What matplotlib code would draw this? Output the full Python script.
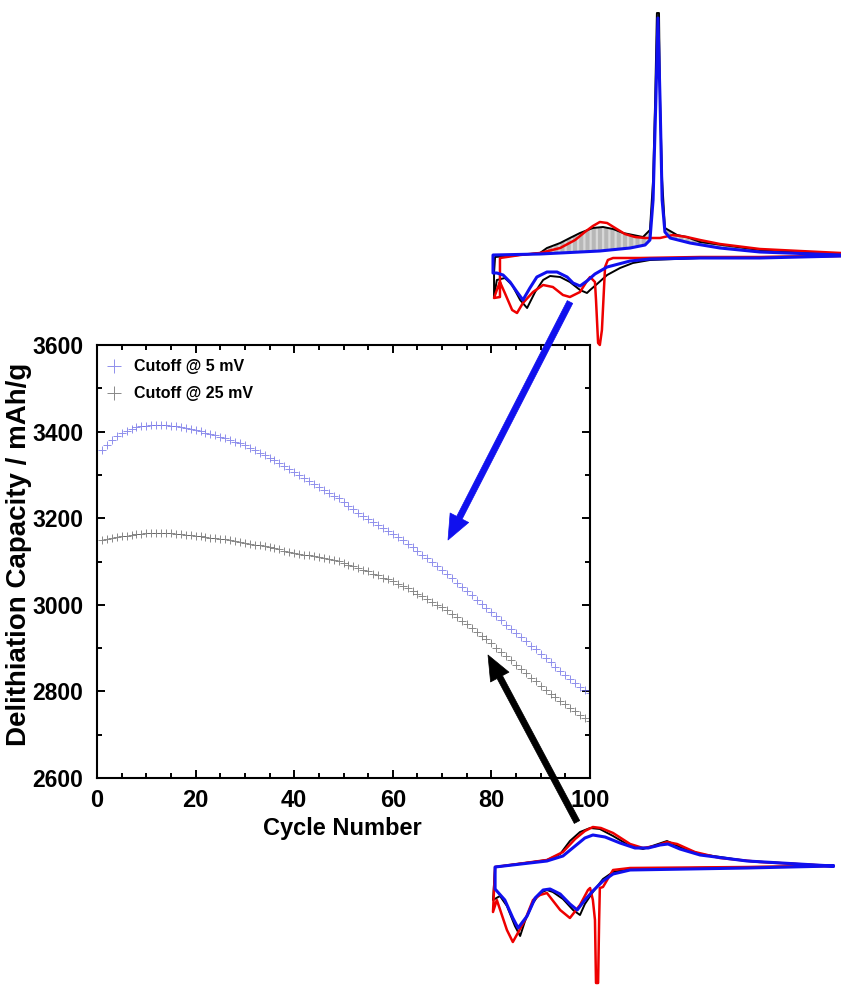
import numpy as np
import matplotlib
matplotlib.use("Agg")
import matplotlib.pyplot as plt
from matplotlib.lines import Line2D

plt.rcParams['font.family'] = ['Liberation Sans', 'DejaVu Sans']
plt.rcParams['font.weight'] = 'bold'
plt.rcParams['hatch.linewidth'] = 0.3

# ---------------- cycling data ----------------
cycles = list(range(1, 101))
cap_5mV = [3358, 3370, 3380, 3389, 3396, 3402, 3406, 3410, 3412, 3414,
           3415, 3415, 3416, 3416, 3414, 3412, 3410, 3408, 3406, 3404,
           3401, 3397, 3394, 3391, 3388, 3385, 3381, 3377, 3373, 3368,
           3362, 3357, 3351, 3346, 3340, 3334, 3327, 3320, 3313, 3306,
           3299, 3292, 3285, 3278, 3272, 3265, 3259, 3252, 3246, 3238,
           3229, 3221, 3213, 3205, 3198, 3191, 3185, 3178, 3171, 3164,
           3157, 3149, 3141, 3133, 3124, 3116, 3107, 3098, 3089, 3080,
           3070, 3061, 3051, 3041, 3031, 3022, 3012, 3002, 2993, 2983,
           2973, 2964, 2954, 2945, 2935, 2926, 2916, 2906, 2897, 2887,
           2877, 2867, 2857, 2848, 2838, 2829, 2819, 2810, 2803, 2797]
cap_25mV = [3149, 3152, 3155, 3157, 3159, 3160, 3162, 3163, 3164, 3165,
            3165, 3166, 3166, 3166, 3165, 3164, 3163, 3162, 3161, 3160,
            3158, 3157, 3155, 3154, 3153, 3151, 3149, 3147, 3145, 3143,
            3141, 3139, 3137, 3135, 3133, 3131, 3128, 3125, 3122, 3120,
            3118, 3116, 3114, 3112, 3110, 3108, 3105, 3103, 3101, 3097,
            3093, 3089, 3085, 3081, 3077, 3072, 3068, 3063, 3059, 3054,
            3049, 3043, 3038, 3032, 3026, 3020, 3013, 3007, 3000, 2994,
            2987, 2979, 2971, 2963, 2955, 2946, 2937, 2929, 2920, 2911,
            2901, 2891, 2882, 2872, 2862, 2852, 2842, 2832, 2823, 2813,
            2804, 2795, 2787, 2778, 2770, 2762, 2754, 2746, 2739, 2731]
series_labels = ["Cutoff @ 5 mV", "Cutoff @ 25 mV"]
x_ticks = [0, 20, 40, 60, 80, 100]
y_ticks = [2600, 2800, 3000, 3200, 3400, 3600]

# ---------------- cyclic voltammograms, 5 mV cutoff ----------------
# potential (V) and current (a.u.); lithiation branch then delithiation branch
cv5_cyc1_E = [1.0, 0.767, 0.595, 0.422, 0.345, 0.330, 0.322, 0.313, 0.307, 0.302,
              0.296, 0.293, 0.279, 0.270, 0.250, 0.221, 0.201, 0.172, 0.144, 0.115,
              0.086, 0.069, 0.055, 0.034, 0.020, 0.011, 0.003, 0.020, 0.020,
              0.078, 0.135, 0.193, 0.236, 0.264, 0.287, 0.307, 0.328, 0.351, 0.379,
              0.408, 0.437, 0.480, 0.517, 0.557, 0.595, 0.652, 0.767, 0.882, 1.0]
cv5_cyc1_I = [-0.01, -0.02, -0.02, -0.03, -0.03, -0.05, -0.12, -0.75, -0.90, -0.88,
              -0.45, -0.27, -0.22, -0.26, -0.37, -0.42, -0.40, -0.32, -0.30, -0.37,
              -0.48, -0.58, -0.55, -0.38, -0.27, -0.35, -0.43, -0.42, -0.03,
              0.00, 0.02, 0.07, 0.15, 0.23, 0.29, 0.33, 0.32, 0.27, 0.21,
              0.18, 0.17, 0.17, 0.20, 0.18, 0.15, 0.11, 0.06, 0.04, 0.02]

cv5_cyc2_E = [1.0, 0.767, 0.595, 0.451, 0.402, 0.365, 0.328, 0.299, 0.279, 0.270,
              0.250, 0.221, 0.193, 0.164, 0.144, 0.121, 0.098, 0.078, 0.055, 0.034,
              0.011, 0.003, 0.003]
cv5_cyc2_I = [-0.01, -0.02, -0.03, -0.05, -0.08, -0.13, -0.20, -0.29, -0.35, -0.38,
              -0.35, -0.27, -0.22, -0.21, -0.25, -0.37, -0.53, -0.45, -0.30, -0.23,
              -0.25, -0.42, -0.18]
cv5_cyc2_anE = [0.006, 0.078, 0.135, 0.155, 0.193, 0.221, 0.250, 0.287, 0.316, 0.345,
                0.374, 0.431, 0.451, 0.460, 0.466, 0.471, 0.477, 0.480, 0.486, 0.494,
                0.529, 0.557, 0.595, 0.767, 1.0]
cv5_cyc2_anI = [-0.02, 0.00, 0.02, 0.07, 0.12, 0.17, 0.22, 0.27, 0.28, 0.26,
                0.22, 0.18, 0.25, 0.75, 1.55, 2.42, 2.42, 1.55, 0.75, 0.27,
                0.20, 0.18, 0.13, 0.05, 0.01]

cv5_cyc100_E = [1.0, 0.767, 0.595, 0.451, 0.394, 0.328, 0.293, 0.270, 0.250, 0.230,
                0.213, 0.184, 0.155, 0.126, 0.106, 0.086, 0.069, 0.049, 0.029, 0.011,
                0.000, 0.000]
cv5_cyc100_I = [-0.01, -0.03, -0.03, -0.04, -0.06, -0.12, -0.19, -0.26, -0.31, -0.28,
                -0.22, -0.17, -0.17, -0.22, -0.33, -0.45, -0.37, -0.27, -0.20, -0.18,
                -0.18, 0.00]
cv5_cyc100_anE = [0.000, 0.135, 0.307, 0.394, 0.437, 0.451, 0.460, 0.468, 0.474, 0.480,
                  0.486, 0.494, 0.509, 0.566, 0.652, 0.767, 1.0]
cv5_cyc100_anI = [0.00, 0.01, 0.04, 0.07, 0.10, 0.15, 0.55, 1.55, 2.37, 1.55,
                  0.55, 0.23, 0.17, 0.12, 0.07, 0.03, 0.00]

# ---------------- cyclic voltammograms, 25 mV cutoff ----------------
cv25_cyc1_E = [0.977, 0.730, 0.394, 0.345, 0.316, 0.307, 0.305, 0.302, 0.296, 0.293,
               0.287, 0.279, 0.273, 0.250, 0.221, 0.193, 0.155, 0.135, 0.115, 0.092,
               0.057, 0.040, 0.011, 0.000, 0.006,
               0.155, 0.201, 0.236, 0.264, 0.287, 0.310, 0.345, 0.394, 0.431, 0.468,
               0.500, 0.529, 0.580, 0.652, 0.767, 0.977]
cv25_cyc1_I = [0.00, -0.01, -0.02, -0.04, -0.21, -0.22, -0.54, -1.17, -1.17, -0.54,
               -0.34, -0.22, -0.24, -0.39, -0.52, -0.44, -0.27, -0.29, -0.34, -0.54,
               -0.76, -0.64, -0.34, -0.46, -0.01,
               0.06, 0.14, 0.27, 0.35, 0.39, 0.38, 0.33, 0.22, 0.18, 0.20,
               0.24, 0.22, 0.14, 0.08, 0.04, 0.00]

cv25_cyc2_E = [0.977, 0.730, 0.394, 0.345, 0.316, 0.287, 0.264, 0.250, 0.230, 0.201,
               0.172, 0.155, 0.135, 0.115, 0.092, 0.078, 0.063, 0.040, 0.020, 0.000,
               0.006, 0.155, 0.193, 0.221, 0.250, 0.279, 0.307, 0.345, 0.394, 0.431,
               0.466, 0.500, 0.537, 0.595, 0.730, 0.977]
cv25_cyc2_I = [0.00, -0.01, -0.03, -0.06, -0.13, -0.26, -0.38, -0.49, -0.44, -0.33,
               -0.26, -0.24, -0.27, -0.37, -0.55, -0.70, -0.60, -0.40, -0.30, -0.34,
               -0.01, 0.06, 0.12, 0.25, 0.34, 0.38, 0.37, 0.30, 0.20, 0.17,
               0.21, 0.25, 0.19, 0.12, 0.05, 0.00]

cv25_cyc100_E = [0.977, 0.730, 0.394, 0.345, 0.316, 0.287, 0.264, 0.242, 0.221, 0.193,
                 0.164, 0.144, 0.121, 0.098, 0.072, 0.057, 0.034, 0.011, 0.006, 0.006,
                 0.155, 0.201, 0.236, 0.264, 0.287, 0.322, 0.365, 0.408, 0.446, 0.480,
                 0.503, 0.537, 0.595, 0.730, 0.977]
cv25_cyc100_I = [0.00, -0.02, -0.04, -0.08, -0.15, -0.25, -0.34, -0.44, -0.38, -0.28,
                 -0.23, -0.24, -0.32, -0.50, -0.62, -0.52, -0.34, -0.25, -0.23, -0.01,
                 0.05, 0.10, 0.20, 0.28, 0.31, 0.29, 0.23, 0.18, 0.18, 0.21,
                 0.22, 0.17, 0.11, 0.05, 0.00]

W, H = 841, 986
fig = plt.figure(figsize=(W / 100, H / 100), dpi=100)
fig.patch.set_facecolor('white')

# ---------------- main capacity plot ----------------
ax = fig.add_axes([97 / W, (H - 778) / H, 493 / W, 433 / H])
ax.plot(cycles, cap_5mV, linestyle='none', marker='+', markersize=6,
        markeredgewidth=0.7, color='#6a6ae6', alpha=0.75)
ax.plot(cycles, cap_25mV, linestyle='none', marker='+', markersize=6,
        markeredgewidth=0.7, color='#555555', alpha=0.7)
ax.set_xlim(0, 100)
ax.set_ylim(2600, 3600)
ax.set_xticks(x_ticks)
ax.set_yticks(y_ticks)
ax.set_xticks(np.arange(0, 101, 5), minor=True)
ax.set_yticks(np.arange(2600, 3601, 100), minor=True)
ax.tick_params(which='both', direction='in', top=True, right=True, width=1.4)
ax.tick_params(which='major', length=6)
ax.tick_params(which='minor', length=3.5)
ax.tick_params(axis='x', which='major', labelsize=17, pad=8)
ax.tick_params(axis='y', which='major', labelsize=16.5, pad=10)
for lab in ax.get_xticklabels() + ax.get_yticklabels():
    lab.set_fontweight('bold')
for sp in ax.spines.values():
    sp.set_linewidth(1.5)

handles = [Line2D([], [], linestyle='none', marker='+', markersize=10,
                  markeredgewidth=0.7, color='#6a6ae6', alpha=0.75),
           Line2D([], [], linestyle='none', marker='+', markersize=10,
                  markeredgewidth=0.7, color='#555555', alpha=0.7)]
ax.legend(handles, series_labels, loc='upper left', bbox_to_anchor=(-0.01, 1.0),
          frameon=False, handlelength=1.0, handletextpad=0.7, labelspacing=0.75,
          prop={'size': 11.5, 'weight': 'bold'})

fig.text(19 / W, 1 - 554 / H, "Delithiation Capacity / mAh/g", rotation=90,
         ha='center', va='center', fontsize=20, fontweight='bold')
fig.text(342 / W, 1 - 829 / H, "Cycle Number", ha='center', va='center',
         fontsize=17, fontweight='bold')

# ---------------- CV insets ----------------
def cv_axes(top_px, bottom_px, base_px):
    a = fig.add_axes([493 / W, (H - bottom_px) / H, 348 / W, (bottom_px - top_px) / H])
    a.set_xlim(0, 1.0)
    a.set_ylim((base_px - bottom_px) / 100, (base_px - top_px) / 100)
    a.axis('off')
    return a

ins5 = cv_axes(0, 350, 255)
grid = np.linspace(0.0, 1.0, 600)
upper = np.interp(grid, cv5_cyc2_anE, cv5_cyc2_anI)
lower = np.interp(grid, cv5_cyc100_anE, cv5_cyc100_anI)
ins5.fill_between(grid, lower, upper, where=upper > lower, facecolor='none',
                  edgecolor='#555555', hatch='|' * 14, linewidth=0)
ins5.plot(cv5_cyc2_E + cv5_cyc2_anE, cv5_cyc2_I + cv5_cyc2_anI, color='black', lw=1.4, clip_on=False)
ins5.plot(cv5_cyc1_E, cv5_cyc1_I, color='#ee0000', lw=1.8, clip_on=False)
ins5.plot(cv5_cyc100_E + cv5_cyc100_anE, cv5_cyc100_I + cv5_cyc100_anI, color='#1010ee', lw=2.2, clip_on=False)

ins25 = cv_axes(800, 986, 866)
ins25.plot(cv25_cyc2_E, cv25_cyc2_I, color='black', lw=1.4, clip_on=False)
ins25.plot(cv25_cyc1_E, cv25_cyc1_I, color='#ee0000', lw=1.8, clip_on=False)
ins25.plot(cv25_cyc100_E, cv25_cyc100_I, color='#1010ee', lw=2.2, clip_on=False)

# ---------------- arrows linking the insets to the curves ----------------
style = 'simple,head_length=0.9,head_width=0.75,tail_width=0.22'
ax.annotate('', xy=(448, H - 540), xytext=(570, H - 302), xycoords='figure pixels',
            textcoords='figure pixels', annotation_clip=False,
            arrowprops=dict(arrowstyle=style, mutation_scale=20, fc='#1010ee',
                            ec='#1010ee', lw=0.5, shrinkA=0, shrinkB=0), zorder=10)
ax.annotate('', xy=(488, H - 655), xytext=(577, H - 822), xycoords='figure pixels',
            textcoords='figure pixels', annotation_clip=False,
            arrowprops=dict(arrowstyle=style, mutation_scale=20, fc='black',
                            ec='black', lw=0.5, shrinkA=0, shrinkB=0), zorder=10)

fig.savefig("out.png", dpi=100, facecolor='white')
